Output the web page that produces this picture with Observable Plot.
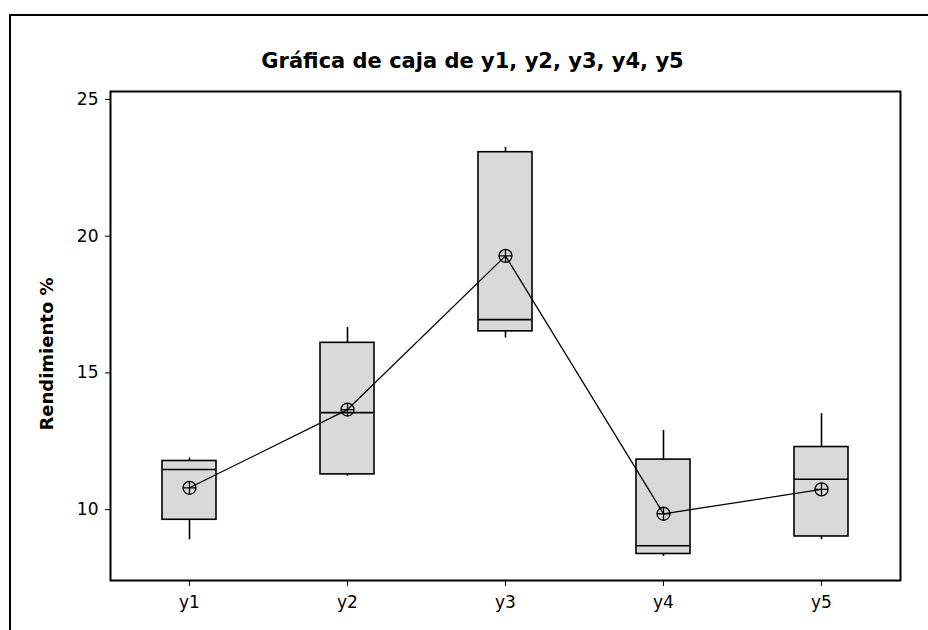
<!DOCTYPE html>
<html>
<head>
<meta charset="utf-8">
<script src="https://cdn.jsdelivr.net/npm/d3@7"></script>
<script src="https://cdn.jsdelivr.net/npm/@observablehq/plot@0.6"></script>
<style>
  html, body { margin: 0; padding: 0; background: #fff; }
  #wrap { position: relative; width: 928px; height: 630px; overflow: hidden; }
  #border { position: absolute; left: 9px; top: 14px; width: 940px; height: 640px;
            border-left: 2px solid #000; border-top: 2px solid #000; box-sizing: border-box; }
  #chart { position: absolute; left: 0; top: 0; }
</style>
</head>
<body>
<div id="wrap"><div id="border"></div><div id="chart"></div></div>
<script>
const titleText = "Gráfica de caja de y1, y2, y3, y4, y5";
const yLabel = "Rendimiento %";
const categories = ["y1", "y2", "y3", "y4", "y5"];
const minVals    = [8.90, 11.22, 16.28, 8.29, 8.90];
const q1Vals     = [9.63, 11.29, 16.52, 8.38, 9.02];
const medianVals = [11.47, 13.55, 16.95, 8.68, 11.11];
const q3Vals     = [11.78, 16.10, 23.07, 11.83, 12.29];
const maxVals    = [11.89, 16.66, 23.25, 12.90, 13.51];
const meanVals   = [10.80, 13.66, 19.28, 9.85, 10.74];
const yTicks = [10, 15, 20, 25];

const rows = categories.map((c, i) => ({
  cat: c, min: minVals[i], q1: q1Vals[i], med: medianVals[i],
  q3: q3Vals[i], max: maxVals[i], mean: meanVals[i]
}));

const circlePlus = {
  draw(ctx, size) {
    const r = Math.sqrt(size / Math.PI);
    ctx.moveTo(r, 0);
    ctx.arc(0, 0, r, 0, 2 * Math.PI);
    ctx.moveTo(-r, 0); ctx.lineTo(r, 0);
    ctx.moveTo(0, -r); ctx.lineTo(0, r);
  }
};

const font = "DejaVu Sans, sans-serif";

const chart = Plot.plot({
  width: 928,
  height: 630,
  marginLeft: 110,
  marginTop: 91,
  marginRight: 28,
  marginBottom: 50,
  style: { fontFamily: font, fontSize: "16px", color: "#000", background: "transparent" },
  x: { type: "band", domain: categories, paddingInner: 0.66, paddingOuter: 0.319, label: null },
  y: { domain: [7.41, 25.29], label: null },
  marks: [
    Plot.ruleX(rows, { x: "cat", y1: "min", y2: "q1", stroke: "#000", strokeWidth: 1.6 }),
    Plot.ruleX(rows, { x: "cat", y1: "q3", y2: "max", stroke: "#000", strokeWidth: 1.6 }),
    Plot.barY(rows, { x: "cat", y1: "q1", y2: "q3", fill: "#d9d9d9", stroke: "#000", strokeWidth: 1.6 }),
    Plot.tickY(rows, { x: "cat", y: "med", stroke: "#000", strokeWidth: 1.6 }),
    Plot.line(rows, { x: "cat", y: "mean", stroke: "#000", strokeWidth: 1.3 }),
    Plot.dot(rows, { x: "cat", y: "mean", symbol: circlePlus, r: 6.5, fill: "none", stroke: "#000", strokeWidth: 1.3 }),
    Plot.frame({ stroke: "#000", strokeWidth: 2 }),
    Plot.axisY({ ticks: yTicks, tickSize: 5, tickPadding: 7, fontSize: 17, label: null, tickFormat: d => String(d) }),
    Plot.axisX({ tickSize: 6, tickPadding: 9, fontSize: 17, label: null }),
    Plot.text([titleText], { text: d => d, frameAnchor: "top", dx: -33, dy: -38, fontSize: 21, fontWeight: "bold" }),
    Plot.text([yLabel], { text: d => d, frameAnchor: "left", textAnchor: "middle", rotate: -90, dx: -63, dy: 18, fontSize: 18, fontWeight: "bold" })
  ]
});
document.getElementById("chart").appendChild(chart);
</script>
</body>
</html>
